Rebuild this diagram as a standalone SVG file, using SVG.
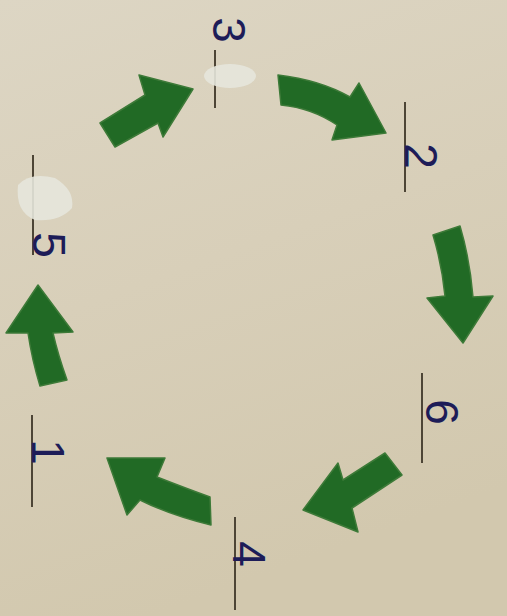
<svg xmlns="http://www.w3.org/2000/svg" width="507" height="616" viewBox="0 0 507 616">
<defs>
<linearGradient id="paper" x1="0" y1="0" x2="0.3" y2="1">
<stop offset="0" stop-color="#ddd6c4"/>
<stop offset="0.5" stop-color="#d8cfb9"/>
<stop offset="1" stop-color="#d2c8ae"/>
</linearGradient>
<style>
.arrow{fill:#216a25;stroke:#3d7a38;stroke-width:1.5;stroke-linejoin:round}
.rule{stroke:#4d4536;stroke-width:2;fill:none}
.num{font-family:"Liberation Sans",Arial,sans-serif;font-size:46px;fill:#1d1c58;text-anchor:middle}
.tape{fill:#e6e5dc;opacity:0.9}
</style>
</defs>
<rect width="507" height="616" fill="url(#paper)"/>
<g id="connectors">
<path class="arrow" d="M115,147 L100,123 L145,95 L139,75 L193,89 L163,137 L158,123 Z"/>
<path class="arrow" d="M278,75 Q320,80 350,97 L359,83 L386,133 L332,140 L337,125 Q312,108 281,105 Z"/>
<path class="arrow" d="M433,235 L460,226 Q470,260 473,297 L493,296 L463,343 L427,298 L445,296 Q442,265 433,235 Z"/>
<path class="arrow" d="M385,453 L402,475 L352,508 L358,532 L303,510 L338,463 L343,480 Z"/>
<path class="arrow" d="M210,497 L211,525 Q170,515 140,500 L127,515 L107,458 L165,458 L157,477 Q185,488 210,497 Z"/>
<path class="arrow" d="M40,386 L67,380 Q58,355 53,333 L73,332 L38,285 L6,333 L28,333 Q32,360 40,386 Z"/>
</g>
<g id="node-3">
<line class="rule" x1="215" y1="50" x2="215" y2="108"/>
<ellipse class="tape" cx="230" cy="76" rx="26" ry="12"/>
<text class="num" transform="translate(213,30) rotate(90)">3</text>
</g>
<g id="node-2">
<line class="rule" x1="405" y1="102" x2="405" y2="192"/>
<text class="num" transform="translate(405,156) rotate(90)">2</text>
</g>
<g id="node-6">
<line class="rule" x1="422" y1="373" x2="422" y2="463"/>
<text class="num" transform="translate(426,412) rotate(90)">6</text>
</g>
<g id="node-4">
<line class="rule" x1="235" y1="517" x2="235" y2="610"/>
<text class="num" transform="translate(233,554) rotate(90)">4</text>
</g>
<g id="node-1">
<line class="rule" x1="32" y1="415" x2="32" y2="507"/>
<text class="num" transform="translate(32,452) rotate(90)">1</text>
</g>
<g id="node-5">
<line class="rule" x1="33" y1="155" x2="33" y2="255"/>
<path class="tape" d="M18,185 Q30,172 55,178 Q75,190 72,208 Q60,222 35,220 Q15,212 18,185 Z"/>
<text class="num" transform="translate(33,245) rotate(90)">5</text>
</g>
</svg>
